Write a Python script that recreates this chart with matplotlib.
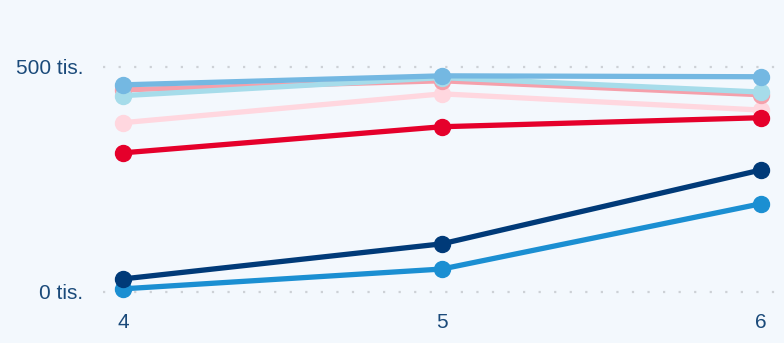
import matplotlib
matplotlib.use("Agg")
import matplotlib.pyplot as plt
from matplotlib.ticker import FuncFormatter

x_values = [4, 5, 6]
light_pink = [376000, 440000, 404000]
red = [309000, 367000, 387000]
pink = [449000, 469000, 438000]
cyan = [436000, 476000, 444000]
sky_blue = [460000, 480000, 478000]
medium_blue = [7000, 51000, 196000]
navy = [29000, 107000, 271000]

series = [
    (light_pink, "#ffd7df"),
    (red, "#e5002b"),
    (pink, "#f5a0ab"),
    (cyan, "#a6dcea"),
    (sky_blue, "#74b8e2"),
    (medium_blue, "#1b8fd2"),
    (navy, "#003a78"),
]

bg = "#f3f8fd"
text_color = "#1a4a7a"

fig = plt.figure(figsize=(7.84, 3.43), dpi=100, facecolor=bg)
ax = fig.add_axes([103 / 784, (343 - 305) / 343, (784 - 103) / 784, 285 / 343])
ax.set_facecolor(bg)

for vals, col in series:
    ax.plot(x_values, vals, color=col, lw=3.8, marker="o", markersize=11.5,
            solid_capstyle="round", clip_on=False, zorder=3)

ax.set_xlim(3.937, 6.072)
ax.set_ylim(-28900, 604000)
ax.set_yticks([0, 500000])
ax.yaxis.set_major_formatter(FuncFormatter(lambda v, p: f"{int(v/1000)} tis."))
ax.set_xticks(x_values)
ax.grid(axis="y", color="#cdd1d6", linestyle=(0, (1, 6)), lw=1.6)
ax.grid(axis="x", visible=False)
for s in ax.spines.values():
    s.set_visible(False)
ax.tick_params(axis="both", length=0, colors=text_color, labelsize=15)
ax.tick_params(axis="y", pad=14)
ax.tick_params(axis="x", pad=6)
for lbl in ax.get_xticklabels() + ax.get_yticklabels():
    lbl.set_fontfamily("Liberation Sans")

fig.savefig("out.png", dpi=100, facecolor=bg)
